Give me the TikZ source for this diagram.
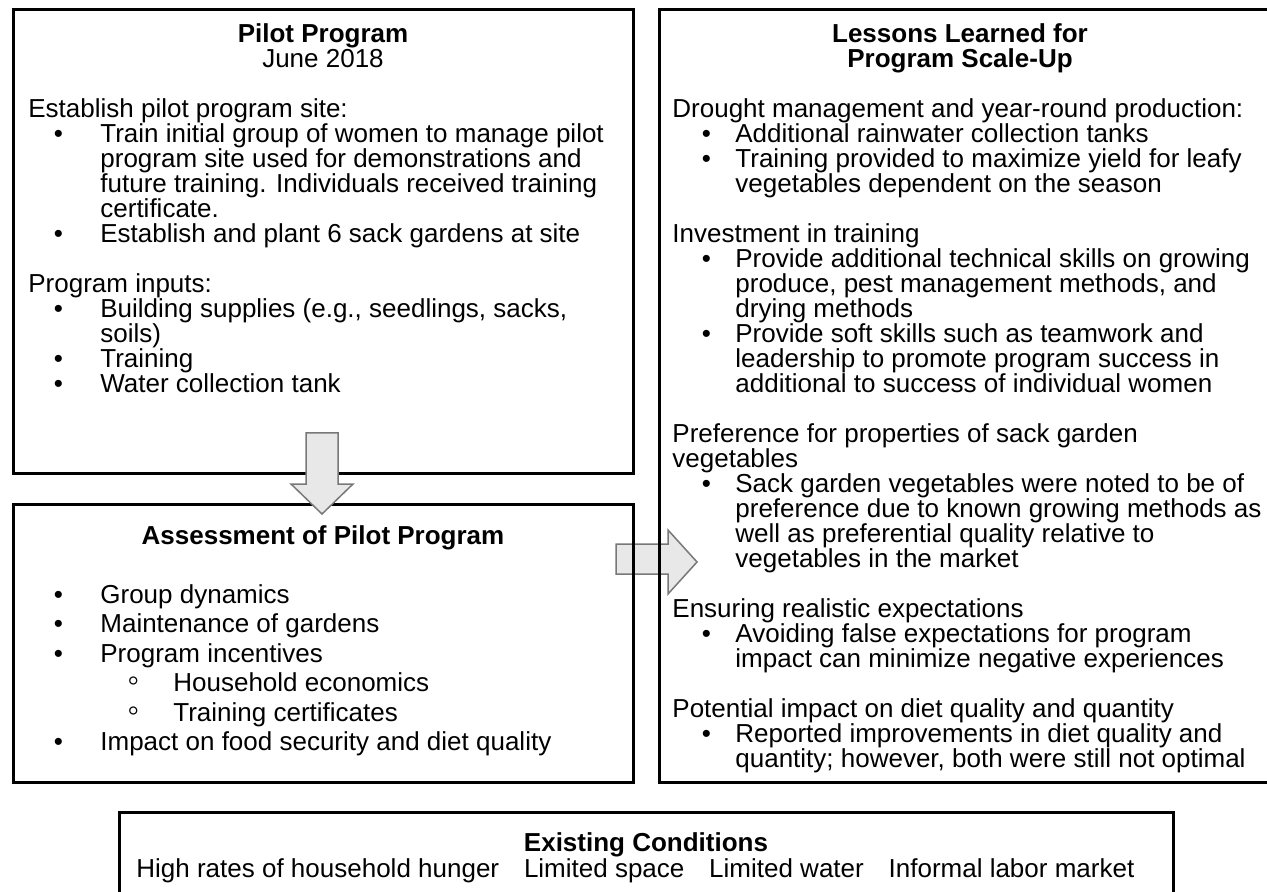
\documentclass[tikz,border=0pt]{standalone}
\usepackage{fontspec}
\setmainfont{Liberation Sans}
\usepackage{tikz}
\usetikzlibrary{positioning}
\definecolor{arrowfill}{RGB}{232,232,232}
\definecolor{arrowline}{RGB}{120,120,120}
% list indents: bullet, then text
\newcommand{\pbul}{\hspace*{15pt}\makebox[0pt]{\textbullet}\hspace*{21pt}}
\newcommand{\pind}{\hspace*{36pt}}
\newcommand{\lbul}{\hspace*{17pt}\makebox[0pt]{\textbullet}\hspace*{14.5pt}}
\newcommand{\lind}{\hspace*{31.5pt}}
\newcommand{\sbul}{\hspace*{52.5pt}\makebox[0pt]{\smash{\scalebox{1.3}{◦}}}\hspace*{20pt}}
% top-aligned blocks, so a node's base is its first line
\newcommand{\lstack}[1]{\parbox[t]{320pt}{\raggedright #1}}
\newcommand{\cstack}[1]{\parbox[t]{320pt}{\centering #1}}

\begin{document}
\begin{tikzpicture}[x=0.5pt, y=-0.5pt,
  every node/.style={font=\fontsize{13pt}{12.5pt}\selectfont, inner sep=0pt},
  panel/.style={draw, line width=1.5pt},
  title/.style={anchor=base},
  body/.style={anchor=base west},
  blockarrow/.style={fill=arrowfill, draw=arrowline, line width=0.75pt}]
  \useasboundingbox (0,0) rectangle (1267,892);
  \clip (0,0) rectangle (1267,892);

  % arrow into the lessons panel sits behind the borders
  \draw[blockarrow] (616,544) -- (668,544) -- (668,530) -- (697,562) -- (668,594) -- (668,574) -- (616,574) -- cycle;

  \draw[panel] (13,10) rectangle (633,473);
  \draw[panel] (13,504) rectangle (633,782);
  \draw[panel] (659,10) rectangle (1290,782);
  \draw[panel] (119,812) rectangle (1173,910);

  \draw[blockarrow] (306,433) -- (338,433) -- (338,484) -- (353,484) -- (322,514) -- (291,484) -- (306,484) -- cycle;

  % pilot
  \node[title] (pilottitle) at (323,43) {\cstack{\textbf{Pilot Program}\\ June 2018}};
  \node[body] (pilotbody) at (28,118) {\lstack{Establish pilot program site:\\
    \pbul Train initial group of women to manage pilot\\
    \pind program site used for demonstrations and\\
    \pind future training. Individuals received training\\
    \pind certificate.\\
    \pbul Establish and plant 6 sack gardens at site\\[12.5pt]
    Program inputs:\\
    \pbul Building supplies (e.g., seedlings, sacks,\\
    \pind soils)\\
    \pbul Training\\
    \pbul Water collection tank}};

  % assessment
  \node[title, font=\fontsize{13pt}{12.5pt}\selectfont\bfseries] (assesstitle) at (323,544) {Assessment of Pilot Program};
  \node[body, font=\fontsize{13pt}{14.75pt}\selectfont] (assessbody) at (28,603) {\lstack{\pbul Group dynamics\\
    \pbul Maintenance of gardens\\
    \pbul Program incentives\\
    \sbul Household economics\\
    \sbul Training certificates\\
    \pbul Impact on food security and diet quality}};

  % lessons
  \node[title, font=\fontsize{13pt}{12.5pt}\selectfont\bfseries] (lessontitle) at (960,43) {\cstack{Lessons Learned for\\ Program Scale-Up}};
  \node[body] (lessonbody) at (672,118) {\lstack{Drought management and year-round production:\\
    \lbul Additional rainwater collection tanks\\
    \lbul Training provided to maximize yield for leafy\\
    \lind vegetables dependent on the season\\[12.5pt]
    Investment in training\\
    \lbul Provide additional technical skills on growing\\
    \lind produce, pest management methods, and\\
    \lind drying methods\\
    \lbul Provide soft skills such as teamwork and\\
    \lind leadership to promote program success in\\
    \lind additional to success of individual women\\[12.5pt]
    Preference for properties of sack garden\\
    vegetables\\
    \lbul Sack garden vegetables were noted to be of\\
    \lind preference due to known growing methods as\\
    \lind well as preferential quality relative to\\
    \lind vegetables in the market\\[12.5pt]
    Ensuring realistic expectations\\
    \lbul Avoiding false expectations for program\\
    \lind impact can minimize negative experiences\\[12.5pt]
    Potential impact on diet quality and quantity\\
    \lbul Reported improvements in diet quality and\\
    \lind quantity; however, both were still not optimal}};

  % existing conditions
  \node[title, font=\fontsize{13pt}{12.5pt}\selectfont\bfseries] (condtitle) at (646,851) {Existing Conditions};
  \node[body] (hunger) at (136,877) {High rates of household hunger};
  \node[base right=12pt of hunger] (space) {Limited space};
  \node[base right=12pt of space] (water) {Limited water};
  \node[base right=12pt of water] (labor) {Informal labor market};
\end{tikzpicture}
\end{document}
